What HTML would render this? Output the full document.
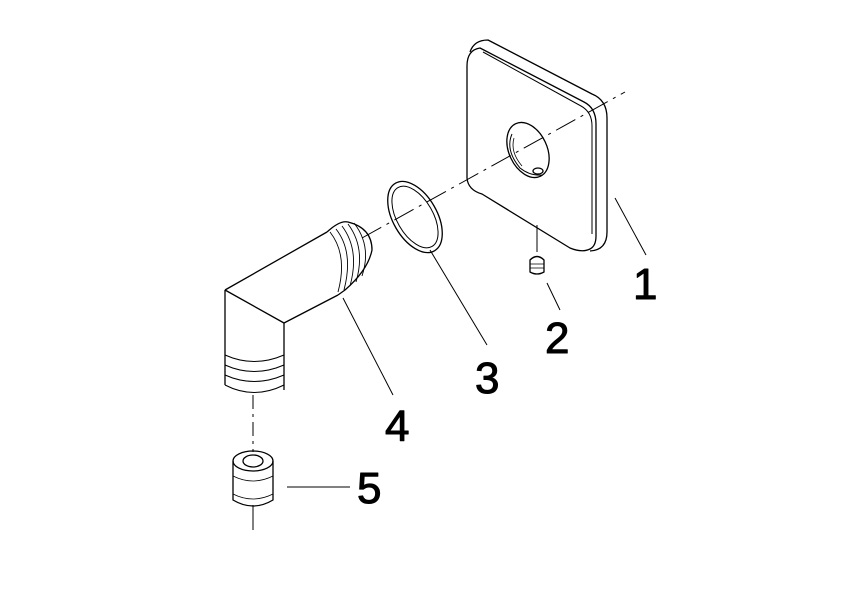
<!DOCTYPE html>
<html><head><style>html,body{margin:0;padding:0;background:#fff}svg{display:block}</style></head>
<body>
<svg width="842" height="596" viewBox="0 0 842 596" xmlns="http://www.w3.org/2000/svg" fill="none" stroke="#000" stroke-width="1.3" stroke-linejoin="round">
<!-- center lines -->
<path d="M362 238 L625 92" stroke-dasharray="22 6 3 6" stroke-width="1"/>
<path d="M253 395 L253 452" stroke-dasharray="14 5 3 5" stroke-width="1"/>
<path d="M253 505 L253 530" stroke-width="1"/>
<path d="M537 225 L537 252" stroke-width="1"/>
<!-- plate back rim -->
<path d="M470 52 Q474 40 488 40 L592 94 Q607 100 607 118 L607 232 Q607 250 590 251"/>
<!-- plate front -->
<path d="M480 48 Q467 50 467 66 L467 178 Q468 190 482 194 L570 248 Q582 253 590 249 Q596 246 596 236 L596 124 Q596 108 584 102 Z"/>
<path d="M483 52 L581 106 Q592 112 592 126 L592 234" stroke-width="1"/>
<!-- hole -->
<ellipse cx="528" cy="150" rx="19" ry="29" transform="rotate(-25 528 150)"/>
<path d="M512 134 Q505 150 520 168 Q530 176 542 175" stroke-width="1"/>
<path d="M514 138 Q510 152 522 166" stroke-width="0.8"/>
<ellipse cx="538" cy="171" rx="5" ry="3"/>
<!-- screw 2 -->
<path d="M530 260 Q537 253 544 260 L544 272 Q537 276 530 272 Z"/>
<path d="M530 264 L544 264 M530 268 L544 268" stroke-width="0.8"/>
<!-- o-ring -->
<ellipse cx="415" cy="217" rx="22" ry="39" transform="rotate(-30 415 217)"/>
<ellipse cx="415" cy="217" rx="18" ry="34" transform="rotate(-30 415 217)" stroke-width="1"/>
<!-- elbow -->
<path d="M225 290 L327 232 M225 290 L284 323 L338 295 M225 290 L225 385 M284 323 L284 390"/>
<path d="M327 232 Q340 220 348 222 Q372 228 372 250 Q368 270 345 290 L338 295"/>
<path d="M330 232 Q348 255 338 292 M336 229 Q354 252 344 290 M342 226 Q360 250 350 286 M348 224 Q366 248 356 282 M354 223 Q372 246 362 276" stroke-width="0.9"/>
<path d="M225 355 Q254 368 284 355 M225 365 Q254 378 284 365 M225 375 Q254 388 284 375 M225 385 Q254 400 284 385 M225 350 L225 385" stroke-width="1"/>
<!-- socket 5 -->
<ellipse cx="253" cy="461" rx="20" ry="10"/>
<ellipse cx="253" cy="461" rx="10" ry="6"/>
<path d="M233 461 L233 500 Q253 512 273 500 L273 461"/>
<path d="M233 476 Q253 486 273 476 M233 494 Q253 504 273 494" stroke-width="0.8"/>
<!-- leaders -->
<path d="M615 198 L646 255 M547 283 L560 310 M430 250 L487 345 M343 298 L393 395 M287 487 L350 487" stroke-width="1"/>
<g fill="#000" stroke="#000" stroke-width="1" font-family="Liberation Sans, sans-serif" font-size="44">
<text x="633" y="299">1</text>
<text x="545" y="353">2</text>
<text x="475" y="393">3</text>
<text x="385" y="441">4</text>
<text x="357" y="503">5</text>
</g>
</svg>
</body></html>
